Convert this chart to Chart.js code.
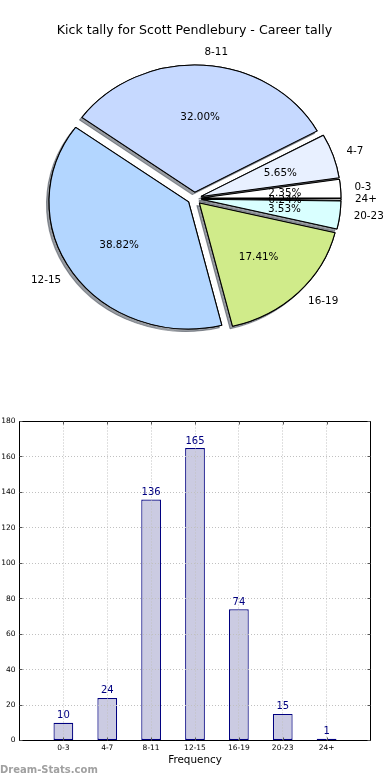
<!DOCTYPE html>
<html><head><meta charset="utf-8">
<script src="https://cdn.jsdelivr.net/npm/chart.js@4.4.0/dist/chart.umd.min.js"></script>
<style>
html,body{margin:0;padding:0;background:#fff;width:390px;height:780px;overflow:hidden;}
#pie{position:absolute;left:0;top:0;}
#bar{position:absolute;left:0;top:390px;}
#wm{position:absolute;left:0;top:764px;font:bold 10px "DejaVu Sans";color:#a0a0a0;line-height:12px;white-space:nowrap;}
</style></head><body>
<canvas id="pie" width="390" height="390"></canvas>
<canvas id="bar" width="390" height="390"></canvas>
<div id="wm">Dream-Stats.com</div>
<script>
// ---- data ----
const categories = ['0-3', '4-7', '8-11', '12-15', '16-19', '20-23', '24+'];
const kicks = [10, 24, 136, 165, 74, 15, 1];
const sliceColors = ['#ffffff', '#e8f0ff', '#c6d9ff', '#b3d6ff', '#d0eb8a', '#d9ffff', '#ffffff'];
const chartTitle = 'Kick tally for Scott Pendlebury - Career tally';
const xAxisTitle = 'Frequency';

// ---- pie geometry / style ----
const PIE_R = 127;          // vertical radius (px)
const SX = 1.099;           // horizontal stretch (elliptical pie)
const EXPLODE = 0.05 * PIE_R;
const FONT = 'DejaVu Sans';
const total = kicks.reduce((a, b) => a + b, 0);

// matplotlib draws counter-clockwise from 3 o'clock; Chart.js draws clockwise -> reverse order
const order = categories.map((_, i) => i).reverse();

const piePlugin = {
  id: 'piePlugin',
  beforeDatasetDraw(chart, args) {
    const ctx = chart.ctx;
    const arcs = args.meta.data;
    const cx = arcs[0].x;
    for (let pass = 0; pass < 2; pass++) {
      arcs.forEach(arc => {
        const mid = (arc.startAngle + arc.endAngle) / 2;
        ctx.save();
        ctx.translate(cx, 0); ctx.scale(SX, 1); ctx.translate(-cx, 0);
        ctx.translate(Math.cos(mid) * EXPLODE, Math.sin(mid) * EXPLODE);
        if (pass === 0) {
          ctx.shadowColor = 'rgba(50,58,70,0.5)';
          ctx.shadowOffsetX = -2.5;
          ctx.shadowOffsetY = 2.5;
          ctx.shadowBlur = 0;
        }
        arc.draw(ctx);
        ctx.restore();
      });
    }
    return false;
  },
  afterDatasetsDraw(chart) {
    const ctx = chart.ctx;
    const meta = chart.getDatasetMeta(0);
    const labels = chart.data.labels;
    const vals = chart.data.datasets[0].data;
    ctx.save();
    ctx.fillStyle = '#000';
    ctx.font = '10.4px "' + FONT + '"';
    meta.data.forEach((arc, i) => {
      const mid = (arc.startAngle + arc.endAngle) / 2;
      const c = Math.cos(mid), s = Math.sin(mid);
      const R = arc.outerRadius;
      const cx = arc.x, cy = arc.y;
      const lx = cx + SX * c * (EXPLODE + 1.1 * R);
      const ly = cy + s * (EXPLODE + 1.1 * R);
      ctx.textAlign = c > 0 ? 'left' : 'right';
      ctx.textBaseline = 'middle';
      ctx.fillText(labels[i], lx, ly);
      const px = cx + SX * c * (EXPLODE + 0.6 * R);
      const py = cy + s * (EXPLODE + 0.6 * R);
      ctx.textAlign = 'center';
      ctx.fillText((vals[i] / total * 100).toFixed(2) + '%', px, py + 1);
    });
    ctx.restore();
  }
};

new Chart(document.getElementById('pie'), {
  type: 'pie',
  data: {
    labels: order.map(i => categories[i]),
    datasets: [{
      data: order.map(i => kicks[i]),
      backgroundColor: order.map(i => sliceColors[i]),
      borderColor: '#000',
      borderWidth: 1
    }]
  },
  options: {
    responsive: false,
    animation: false,
    rotation: 90,
    radius: PIE_R,
    layout: { padding: { top: 0, left: 0, right: 1.2, bottom: 40.7 } },
    plugins: {
      legend: { display: false },
      tooltip: { enabled: false },
      title: {
        display: true, text: chartTitle, color: '#000',
        font: { family: FONT, size: 12.6, weight: 'normal' },
        padding: { top: 23.2, bottom: 9.2 }
      }
    }
  },
  plugins: [piePlugin]
});

// ---- bar chart ----
const GRID = '#c0c0c0';
const framePlugin = {
  id: 'frame',
  afterDraw(chart) {
    const { ctx, chartArea: a, scales } = chart;
    ctx.save();
    ctx.strokeStyle = '#000';
    ctx.lineWidth = 1;
    ctx.strokeRect(a.left, a.top, a.right - a.left, a.bottom - a.top);
    // inward tick marks
    ctx.strokeStyle = '#555';
    ctx.beginPath();
    scales.x.ticks.forEach(t => {
      if (t.value < 0 || t.value > categories.length - 1) return;
      const x = Math.round(scales.x.getPixelForValue(t.value)) + 0.5;
      ctx.moveTo(x, a.bottom); ctx.lineTo(x, a.bottom - 3);
      ctx.moveTo(x, a.top); ctx.lineTo(x, a.top + 3);
    });
    scales.y.ticks.forEach(t => {
      const y = Math.round(scales.y.getPixelForValue(t.value) - 0.5) + 0.5;
      ctx.moveTo(a.left, y); ctx.lineTo(a.left + 3, y);
      ctx.moveTo(a.right, y); ctx.lineTo(a.right - 3, y);
    });
    ctx.stroke();
    // value labels
    const meta = chart.getDatasetMeta(0);
    ctx.fillStyle = '#000080';
    ctx.font = '10px "' + FONT + '"';
    ctx.textAlign = 'center';
    ctx.textBaseline = 'alphabetic';
    meta.data.forEach((bar, i) => {
      ctx.fillText(String(kicks[i]), bar.x, bar.y - 4.5);
    });
    ctx.restore();
  }
};

new Chart(document.getElementById('bar'), {
  type: 'bar',
  data: {
    datasets: [{
      data: kicks.map((v, i) => ({ x: i, y: v })),
      backgroundColor: '#cbcbe2',
      borderColor: '#000080',
      borderWidth: 1.2,
      borderSkipped: false,
      barPercentage: 0.45,
      categoryPercentage: 1
    }]
  },
  options: {
    responsive: false,
    animation: false,
    layout: { padding: { top: 31.5, right: 19.5, left: 0, bottom: 0 } },
    plugins: { legend: { display: false }, tooltip: { enabled: false } },
    scales: {
      x: {
        type: 'linear', min: -1, max: categories.length, offset: false,
        afterFit(a) { a.height = 39.5; },
        ticks: {
          stepSize: 1, autoSkip: false, maxRotation: 0, padding: 2.7, color: '#000',
          font: { family: FONT, size: 7.5 },
          callback: v => (categories[v] !== undefined ? categories[v] : '')
        },
        grid: {
          offset: false, drawTicks: false, lineWidth: 1, z: 1,
          color: c => (c.tick && c.tick.value >= 0 && c.tick.value < categories.length) ? GRID : 'rgba(0,0,0,0)'
        },
        border: { display: true, color: '#000', width: 1, dash: [1, 2], z: 2 },
        title: {
          display: true, text: xAxisTitle, color: '#000',
          font: { family: FONT, size: 10.4 }, padding: { top: 0, bottom: 13.76 }
        }
      },
      y: {
        min: 0, max: 180,
        afterFit(a) { a.width = 19.5; },
        ticks: { stepSize: 20, padding: 4, color: '#000', font: { family: FONT, size: 7.5 } },
        grid: {
          drawTicks: false, lineWidth: 1, z: 1,
          color: c => (c.tick && c.tick.value > 0 && c.tick.value < 180) ? GRID : 'rgba(0,0,0,0)'
        },
        border: { display: true, color: '#000', width: 1, dash: [1, 2], z: 2 }
      }
    }
  },
  plugins: [framePlugin]
});
</script>
</body></html>
